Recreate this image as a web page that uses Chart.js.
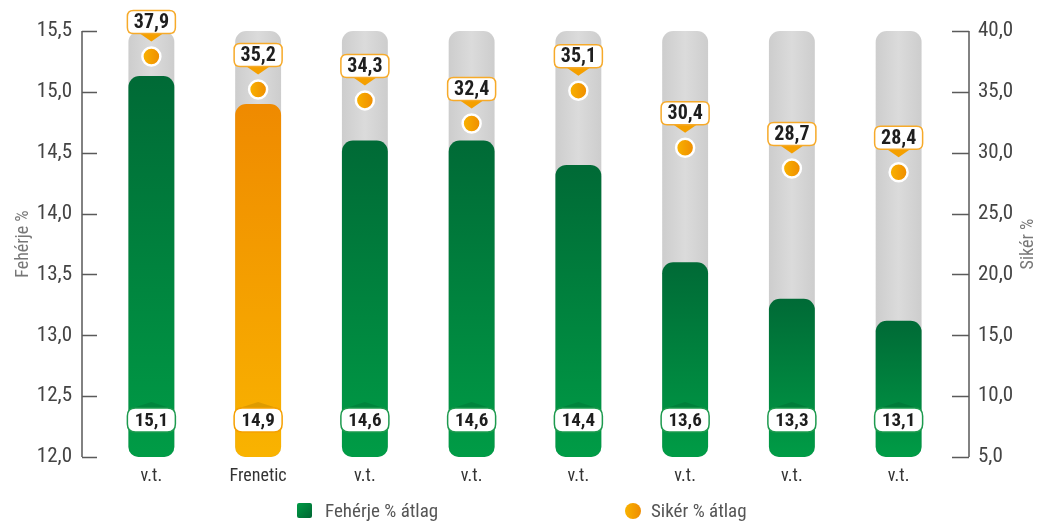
<!DOCTYPE html>
<html><head><meta charset="utf-8">
<script src="https://cdn.jsdelivr.net/npm/chart.js@4.4.1/dist/chart.umd.min.js"></script>
<style>html,body{margin:0;padding:0;background:#fff;overflow:hidden}</style>
</head><body>
<canvas id="c" width="1037" height="521"></canvas>
<script>
const categories = ['v.t.', 'Frenetic', 'v.t.', 'v.t.', 'v.t.', 'v.t.', 'v.t.', 'v.t.'];
const feherje = [15.13, 14.9, 14.6, 14.6, 14.4, 13.6, 13.3, 13.12];
const siker = [37.9, 35.2, 34.3, 32.4, 35.1, 30.4, 28.7, 28.4];
const backgroundTrack = [15.5, 15.5, 15.5, 15.5, 15.5, 15.5, 15.5, 15.5];
const highlightIndex = 1;
const leftTicks = [12.0, 12.5, 13.0, 13.5, 14.0, 14.5, 15.0, 15.5];
const rightTicks = [5, 10, 15, 20, 25, 30, 35, 40];
const leftTitle = 'Fehérje %';
const rightTitle = 'Sikér %';
const legendLabels = ['Fehérje % átlag', 'Sikér % átlag'];

const FONT = '"Liberation Sans Narrow", "Arial Narrow", "Roboto Condensed", "Liberation Sans", sans-serif';
Chart.defaults.font.family = FONT;
const fmt = v => Number(v).toFixed(1).replace('.', ',');
const RADIUS = { topLeft: 11, topRight: 11, bottomLeft: 10, bottomRight: 10 };
const BAR_BASE = leftTicks[0];

function rr(ctx, x, y, w, h, r) {
  ctx.beginPath();
  ctx.moveTo(x + r, y);
  ctx.lineTo(x + w - r, y);
  ctx.quadraticCurveTo(x + w, y, x + w, y + r);
  ctx.lineTo(x + w, y + h - r);
  ctx.quadraticCurveTo(x + w, y + h, x + w - r, y + h);
  ctx.lineTo(x + r, y + h);
  ctx.quadraticCurveTo(x, y + h, x, y + h - r);
  ctx.lineTo(x, y + r);
  ctx.quadraticCurveTo(x, y, x + r, y);
  ctx.closePath();
}

function zeroPad(s) { s.paddingTop = 0; s.paddingBottom = 0; s.paddingLeft = 0; s.paddingRight = 0; }

const decor = {
  id: 'decor',
  afterDatasetsDraw(chart) {
    const ctx = chart.ctx;
    const y = chart.scales.y, y2 = chart.scales.y2;
    ctx.save();
    ctx.strokeStyle = '#5a5a5a';
    ctx.lineWidth = 1.5;
    const lx = 82, rx = 969;
    ctx.beginPath();
    ctx.moveTo(lx, y.getPixelForValue(leftTicks[0]));
    ctx.lineTo(lx, y.getPixelForValue(leftTicks[leftTicks.length - 1]));
    leftTicks.forEach(t => { const p = Math.round(y.getPixelForValue(t)) + 0.5; ctx.moveTo(lx, p); ctx.lineTo(lx + 15, p); });
    ctx.moveTo(rx, y2.getPixelForValue(rightTicks[0]));
    ctx.lineTo(rx, y2.getPixelForValue(rightTicks[rightTicks.length - 1]));
    rightTicks.forEach(t => { const p = Math.round(y2.getPixelForValue(t)) + 0.5; ctx.moveTo(rx, p); ctx.lineTo(rx - 17, p); });
    ctx.stroke();

    ctx.fillStyle = '#777';
    ctx.font = '18px ' + FONT;
    ctx.textAlign = 'center';
    ctx.textBaseline = 'middle';
    const cy = (chart.chartArea.top + chart.chartArea.bottom) / 2;
    ctx.save(); ctx.translate(23, cy); ctx.rotate(-Math.PI / 2); ctx.fillText(leftTitle, 0, 0); ctx.restore();
    ctx.save(); ctx.translate(1028, cy); ctx.rotate(-Math.PI / 2); ctx.fillText(rightTitle, 0, 0); ctx.restore();

    const barMeta = chart.getDatasetMeta(1);
    barMeta.data.forEach((el, i) => {
      const hl = i === highlightIndex;
      const x = el.x, w = 48, h = 24, top = 408;
      ctx.fillStyle = 'rgba(0,0,0,0.10)';
      ctx.beginPath(); ctx.moveTo(x - 22, top + 1); ctx.lineTo(x, top - 6); ctx.lineTo(x + 22, top + 1); ctx.closePath(); ctx.fill();
      rr(ctx, x - w / 2, top, w, h, 8);
      ctx.fillStyle = '#fff'; ctx.fill();
      ctx.lineWidth = 1.5; ctx.strokeStyle = hl ? '#f5a000' : '#1d9a4e'; ctx.stroke();
      ctx.fillStyle = '#1e1e1e';
      ctx.font = 'bold 19px ' + FONT;
      ctx.textAlign = 'center'; ctx.textBaseline = 'middle';
      ctx.fillText(fmt(feherje[i]), x, top + h / 2 + 1);
    });

    const dotMeta = chart.getDatasetMeta(2);
    dotMeta.data.forEach((el, i) => {
      const x = el.x, dy = el.y, w = 48, h = 23;
      const bottom = dy - 23, top = bottom - h;
      ctx.fillStyle = '#f5a000';
      ctx.beginPath(); ctx.moveTo(x - 13, bottom - 1); ctx.lineTo(x, dy - 15); ctx.lineTo(x + 13, bottom - 1); ctx.closePath(); ctx.fill();
      rr(ctx, x - w / 2, top, w, h, 6);
      ctx.fillStyle = '#fff'; ctx.fill();
      ctx.lineWidth = 1.5; ctx.strokeStyle = '#f6aa2a'; ctx.stroke();
      ctx.fillStyle = '#1e1e1e';
      ctx.font = 'bold 20px ' + FONT;
      ctx.textAlign = 'center'; ctx.textBaseline = 'middle';
      ctx.fillText(fmt(siker[i]), x, top + h / 2 + 1);
    });

    const gsq = ctx.createLinearGradient(297, 503, 312, 518);
    gsq.addColorStop(0, '#009b45'); gsq.addColorStop(1, '#006633');
    rr(ctx, 297, 503, 15, 15, 2); ctx.fillStyle = gsq; ctx.fill();
    ctx.fillStyle = '#555'; ctx.font = '19px ' + FONT; ctx.textAlign = 'left'; ctx.textBaseline = 'middle';
    ctx.fillText(legendLabels[0], 325, 512);
    const gc = ctx.createLinearGradient(625, 0, 641, 0);
    gc.addColorStop(0, '#f9b300'); gc.addColorStop(1, '#ef8c00');
    ctx.beginPath(); ctx.arc(633, 511, 8, 0, Math.PI * 2); ctx.fillStyle = gc; ctx.fill();
    ctx.fillStyle = '#555';
    ctx.fillText(legendLabels[1], 651, 512);
    ctx.restore();
  }
};

const chart = new Chart(document.getElementById('c'), {
  data: {
    labels: categories,
    datasets: [
      {
        type: 'bar', label: 'track', data: backgroundTrack, yAxisID: 'y', grouped: false, order: 3,
        barPercentage: 0.43, categoryPercentage: 1, base: BAR_BASE,
        borderRadius: RADIUS, borderSkipped: false,
        backgroundColor: (c) => {
          const ch = c.chart;
          if (!ch.chartArea || c.type !== 'data') return '#d6d6d6';
          const x = ch.scales.x.getPixelForValue(c.dataIndex);
          const g = ch.ctx.createLinearGradient(x - 23, 0, x + 23, 0);
          g.addColorStop(0, '#cdcdcd'); g.addColorStop(0.5, '#dbdbdb'); g.addColorStop(1, '#cdcdcd');
          return g;
        }
      },
      {
        type: 'bar', label: legendLabels[0], data: feherje, yAxisID: 'y', grouped: false, order: 2,
        barPercentage: 0.43, categoryPercentage: 1, base: BAR_BASE,
        borderRadius: RADIUS, borderSkipped: false,
        backgroundColor: (c) => {
          const ch = c.chart;
          if (!ch.chartArea || c.type !== 'data') return '#00853e';
          const yTop = ch.scales.y.getPixelForValue(c.raw);
          const g = ch.ctx.createLinearGradient(0, yTop, 0, ch.chartArea.bottom);
          if (c.dataIndex === highlightIndex) { g.addColorStop(0, '#ef8a00'); g.addColorStop(1, '#f9b300'); }
          else { g.addColorStop(0, '#006a36'); g.addColorStop(1, '#009c46'); }
          return g;
        }
      },
      {
        type: 'line', label: legendLabels[1], data: siker, yAxisID: 'y2', order: 1,
        showLine: false, pointRadius: 9, pointHoverRadius: 9,
        pointBackgroundColor: (c) => {
          const ch = c.chart;
          if (!ch.chartArea || c.type !== 'data') return '#f5a000';
          const x = ch.scales.x.getPixelForValue(c.dataIndex);
          const g = ch.ctx.createLinearGradient(x - 9, 0, x + 9, 0);
          g.addColorStop(0, '#f9b300'); g.addColorStop(1, '#ef8c00');
          return g;
        },
        pointBorderColor: '#fff', pointBorderWidth: 2.5
      }
    ]
  },
  options: {
    responsive: false, animation: false, devicePixelRatio: 1,
    layout: { padding: { top: 31, left: 0, right: 0, bottom: 0 } },
    plugins: { legend: { display: false }, tooltip: { enabled: false } },
    scales: {
      x: {
        grid: { display: false, drawTicks: false }, border: { display: false },
        ticks: { color: '#333', font: { size: 18 }, padding: 9 },
        afterFit: s => { s.height = 64; zeroPad(s); }
      },
      y: {
        position: 'left', min: 12, max: 15.5,
        grid: { display: false, drawTicks: false }, border: { display: false },
        afterBuildTicks: s => { s.ticks = leftTicks.map(v => ({ value: v })); },
        ticks: { color: '#444', font: { size: 21 }, padding: 26, callback: v => fmt(v) },
        afterFit: s => { s.width = 98; zeroPad(s); }
      },
      y2: {
        position: 'right', min: 5, max: 40,
        grid: { display: false, drawTicks: false }, border: { display: false },
        afterBuildTicks: s => { s.ticks = rightTicks.map(v => ({ value: v })); },
        ticks: { color: '#444', font: { size: 21 }, padding: 26, callback: v => fmt(v) },
        afterFit: s => { s.width = 85; zeroPad(s); }
      }
    }
  },
  plugins: [decor]
});
</script>
</body></html>
